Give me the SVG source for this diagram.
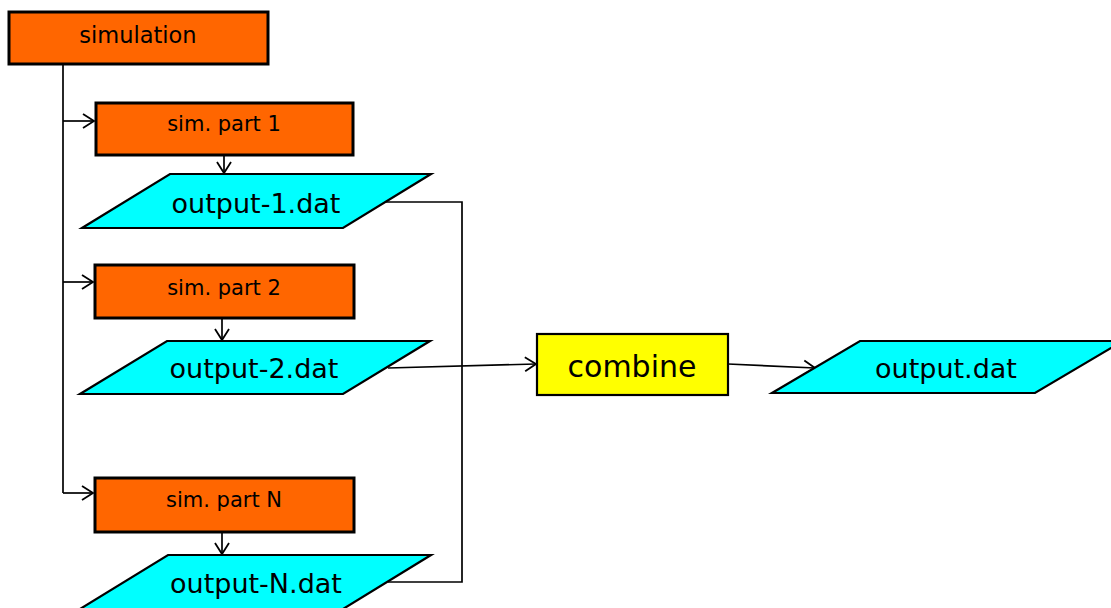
<svg xmlns="http://www.w3.org/2000/svg" width="1111" height="608" viewBox="0 0 1111 608">
<defs>
<marker id="arr" markerUnits="userSpaceOnUse" markerWidth="14" markerHeight="14" refX="0" refY="0" orient="auto" overflow="visible">
<path d="M-11,-7 L0,0 L-11,7" fill="none" stroke="#000" stroke-width="1.8"/>
</marker>
</defs>
<style>
.box{fill:#ff6600;stroke:#000;stroke-width:3}
.data{fill:#00ffff;stroke:#000;stroke-width:2.2}
.comb{fill:#ffff00;stroke:#000;stroke-width:2.2}
.t{font-family:"DejaVu Sans",Verdana,sans-serif;fill:#000;text-anchor:middle}
.s{font-size:21px}
.m{font-size:27px}
.l{font-size:30px}
.c{fill:none;stroke:#000;stroke-width:1.7}
</style>
<rect width="1111" height="608" fill="#fff"/>
<g id="connectors">
<path class="c" d="M63,64 V493"/>
<path class="c" d="M63,121 H94" marker-end="url(#arr)"/>
<path class="c" d="M63,282 H93" marker-end="url(#arr)"/>
<path class="c" d="M63,493 H93" marker-end="url(#arr)"/>
<path class="c" d="M224,155 V173" marker-end="url(#arr)"/>
<path class="c" d="M222,318 V340" marker-end="url(#arr)"/>
<path class="c" d="M222,532 V554" marker-end="url(#arr)"/>
<path class="c" d="M385,202 H462 V366"/>
<path class="c" d="M388,582 H462 V366"/>
<path class="c" d="M388,368 L536,364" marker-end="url(#arr)"/>
<path class="c" d="M728,364 L815,368" marker-end="url(#arr)"/>
</g>
<g id="simulation">
<rect class="box" x="9" y="12" width="259" height="52"/>
<text class="t" x="138" y="43" font-size="22.5">simulation</text>
</g>
<g id="sim1">
<rect class="box" x="96" y="103" width="257" height="52"/>
<text class="t s" x="224" y="131">sim. part 1</text>
</g>
<g id="out1">
<polygon class="data" points="170,174 431,174 343,228 82,228"/>
<text class="t m" x="256" y="213">output-1.dat</text>
</g>
<g id="sim2">
<rect class="box" x="95" y="265" width="259" height="53"/>
<text class="t s" x="224" y="295">sim. part 2</text>
</g>
<g id="out2">
<polygon class="data" points="167,341 430,341 343,394 80,394"/>
<text class="t m" x="254" y="378">output-2.dat</text>
</g>
<g id="simN">
<rect class="box" x="95" y="478" width="259" height="54"/>
<text class="t s" x="224" y="507">sim. part N</text>
</g>
<g id="outN">
<polygon class="data" points="168,555 431,555 343,609 80,609"/>
<text class="t m" x="256" y="593">output-N.dat</text>
</g>
<g id="combine">
<rect class="comb" x="537" y="334" width="191" height="61"/>
<text class="t l" x="632" y="377">combine</text>
</g>
<g id="output">
<polygon class="data" points="860,341 1123,341 1035,393 772,393"/>
<text class="t m" x="946" y="378">output.dat</text>
</g>
</svg>
